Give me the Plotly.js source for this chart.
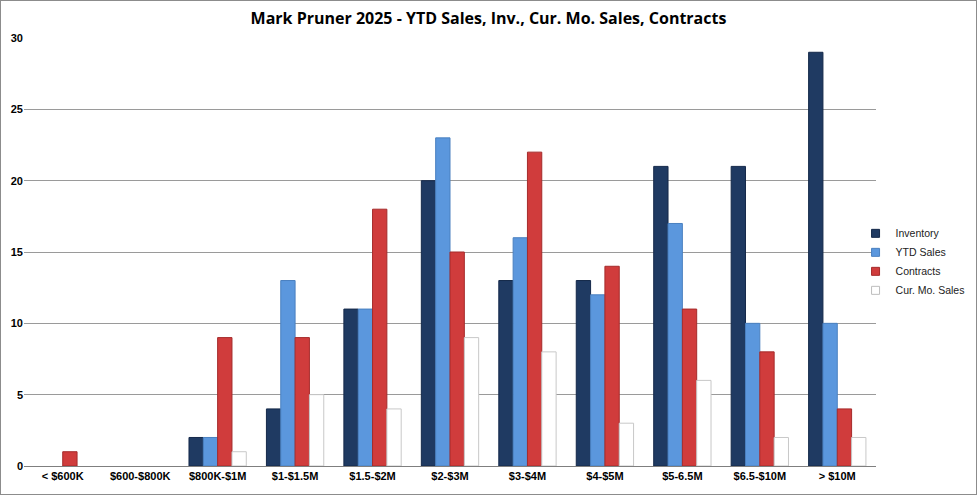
<!DOCTYPE html>
<html>
<head>
<meta charset="utf-8">
<script src="https://cdn.plot.ly/plotly-3.0.1.min.js"></script>
<style>
  html, body { margin: 0; padding: 0; background: #fff; }
  #chart { width: 975px; height: 493px; border: 1px solid #8c8c8c; }
</style>
</head>
<body>
<div id="chart"></div>
<script>
// Rangos de precio
const categories = ['< $600K', '$600-$800K', '$800K-$1M', '$1-$1.5M', '$1.5-$2M',
  '$2-$3M', '$3-$4M', '$4-$5M', '$5-6.5M', '$6.5-$10M', '> $10M'];

// Series
const inventory = [0, 0, 2, 4, 11, 20, 13, 13, 21, 21, 29];
const ytdSales = [0, 0, 2, 13, 11, 23, 16, 12, 17, 10, 10];
const contracts = [1, 0, 9, 9, 18, 15, 22, 14, 11, 8, 4];
const curMoSales = [0, 0, 1, 5, 4, 9, 8, 3, 6, 2, 2];

const yTicks = [0, 5, 10, 15, 20, 25, 30];

const series = [
  { name: 'Inventory', y: inventory, fill: '#1f3a62', edge: '#15294a' },
  { name: 'YTD Sales', y: ytdSales, fill: '#5b97dd', edge: '#4a80c0' },
  { name: 'Contracts', y: contracts, fill: '#d03c3c', edge: '#a52b2b' },
  { name: 'Cur. Mo. Sales', y: curMoSales, fill: '#ffffff', edge: '#c8c8c8' }
];

// Barras (sin borde en barras vacías)
const bars = series.map(s => ({
  type: 'bar', name: s.name, x: categories, y: s.y, showlegend: false,
  marker: { color: s.fill, line: { color: s.edge, width: s.y.map(v => (v === 0 ? 0 : 1)) } },
  hoverinfo: 'x+y+name'
}));

// Entradas de leyenda: cuadritos como en Excel
const legendItems = series.map(s => ({
  type: 'scatter', mode: 'markers', name: s.name, x: [null], y: [null],
  marker: { symbol: 'square', size: 8, color: s.fill, line: { color: s.edge === '#c8c8c8' ? '#bdbdbd' : s.edge, width: 1 } },
  hoverinfo: 'skip'
}));

const layout = {
  width: 975, height: 493,
  margin: { l: 23, r: 100, t: 37, b: 28, autoexpand: false },
  paper_bgcolor: '#fff', plot_bgcolor: '#fff',
  font: { family: 'Liberation Sans, Arial, sans-serif', size: 11, color: '#000' },
  title: {
    text: '<b>Mark Pruner 2025 - YTD Sales, Inv., Cur. Mo. Sales, Contracts</b>',
    font: { size: 16, color: '#000', family: 'Open Sans, Liberation Sans, sans-serif' },
    x: 0.5, xanchor: 'center', y: 0.965, yanchor: 'middle'
  },
  barmode: 'group', bargap: 0.26, bargroupgap: 0,
  xaxis: {
    type: 'category', showgrid: false, ticks: '',
    showline: true, linecolor: '#7f7f7f', linewidth: 1,
    tickfont: { size: 11, family: 'Liberation Sans, Arial, sans-serif', weight: 'bold' }
  },
  yaxis: {
    range: [0, 30], tickvals: yTicks, showgrid: true, gridcolor: '#9a9a9a', gridwidth: 1,
    zeroline: false, showline: false, ticks: '',
    tickfont: { size: 11, weight: 'bold' }
  },
  showlegend: true,
  legend: {
    x: 0.976, xanchor: 'left', y: 0.477, yanchor: 'middle',
    font: { size: 10.5, family: 'Liberation Sans, Arial, sans-serif', color: '#222' },
    itemwidth: 30, tracegroupgap: 2, bgcolor: 'rgba(0,0,0,0)'
  }
};

Plotly.newPlot('chart', [...bars, ...legendItems], layout, { displayModeBar: false, staticPlot: true });
</script>
</body>
</html>
